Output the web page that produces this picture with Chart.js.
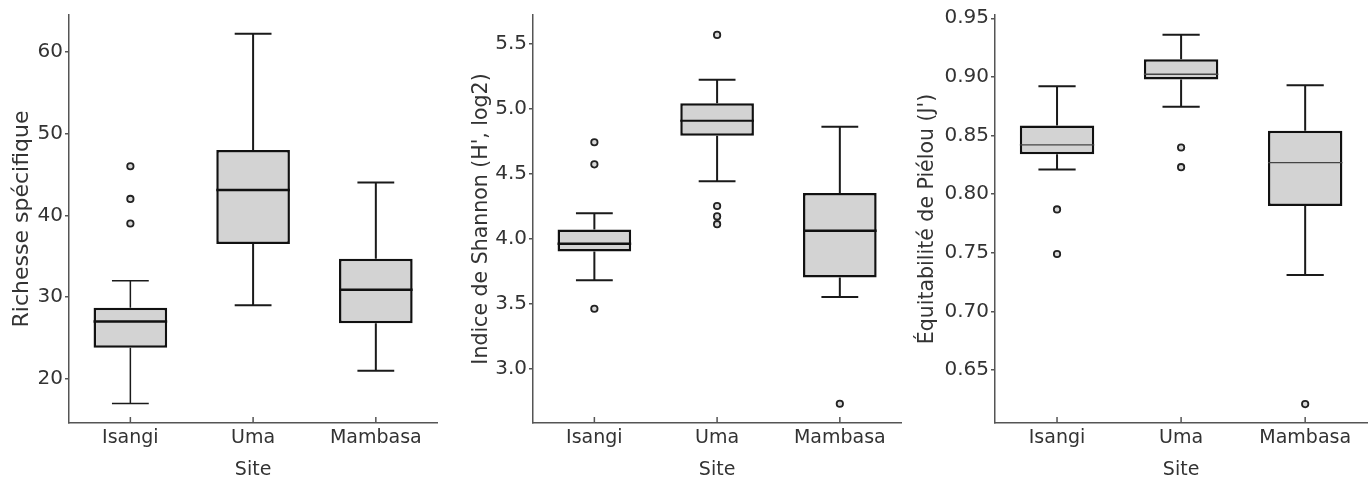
<!DOCTYPE html>
<html>
<head>
<meta charset="utf-8">
<script src="https://cdn.jsdelivr.net/npm/chart.js@4.4.1/dist/chart.umd.min.js"></script>
<style>
  html, body { margin: 0; background: #fff; width: 1368px; height: 480px; overflow: hidden; }
  body { position: relative; }
  canvas { position: absolute; top: 0; }
</style>
</head>
<body>
<canvas id="rich" width="443" height="480" style="left:0px"></canvas>
<canvas id="shannon" width="451" height="480" style="left:456px"></canvas>
<canvas id="pielou" width="461" height="480" style="left:912px"></canvas>
<script>
const sites = ['Isangi', 'Uma', 'Mambasa'];

// Richesse spécifique
const richMin = [17, 29, 21];
const richQ1 = [23.8, 36.5, 26.8];
const richMed = [27.0, 43.1, 30.9];
const richQ3 = [28.7, 48.0, 34.7];
const richMax = [32, 62.2, 44];
const richOut = [[39, 42, 46], [], []];
const richTicks = [20, 30, 40, 50, 60];

// Indice de Shannon
const shanMin = [3.68, 4.44, 3.55];
const shanQ1 = [3.90, 4.79, 3.70];
const shanMed = [3.96, 4.905, 4.06];
const shanQ3 = [4.07, 5.04, 4.35];
const shanMax = [4.195, 5.22, 4.86];
const shanOut = [[3.46, 4.57, 4.74], [4.11, 4.17, 4.25, 5.565], [2.73]];
const shanTicks = [3.0, 3.5, 4.0, 4.5, 5.0, 5.5];

// Equitabilite de Pielou
const pielMin = [0.821, 0.8745, 0.731];
const pielQ1 = [0.834, 0.8977, 0.790];
const pielMed = [0.842, 0.9023, 0.827];
const pielQ3 = [0.8585, 0.915, 0.854];
const pielMax = [0.892, 0.936, 0.893];
const pielOut = [[0.749, 0.787], [0.823, 0.8398], [0.621]];
const pielTicks = [0.65, 0.70, 0.75, 0.80, 0.85, 0.90, 0.95];

const FONT = 'DejaVu Sans';
const TXT = '#333';
const AXIS = '#555';

// whiskers, caps, medians and the small inward x ticks
const boxPlugin = {
  id: 'boxes',
  afterDatasetDraw(chart, args, opts) {
    if (args.index !== 0) return;
    const ctx = chart.ctx;
    const x = chart.scales.x, y = chart.scales.y;
    const meta = chart.getDatasetMeta(0);
    ctx.save();
    ctx.lineCap = 'butt';
    meta.data.forEach((bar, i) => {
      const cx = bar.x;
      const half = bar.width / 2;
      const cap = half / 2;
      const yMin = y.getPixelForValue(opts.min[i]);
      const yQ1 = y.getPixelForValue(opts.q1[i]);
      const yMed = y.getPixelForValue(opts.med[i]);
      const yQ3 = y.getPixelForValue(opts.q3[i]);
      const yMax = y.getPixelForValue(opts.max[i]);
      ctx.strokeStyle = '#1a1a1a';
      ctx.lineWidth = opts.whiskerWidth[i];
      ctx.beginPath();
      ctx.moveTo(cx, yQ1); ctx.lineTo(cx, yMin);
      ctx.moveTo(cx, yQ3); ctx.lineTo(cx, yMax);
      ctx.moveTo(cx - cap, yMin); ctx.lineTo(cx + cap, yMin);
      ctx.moveTo(cx - cap, yMax); ctx.lineTo(cx + cap, yMax);
      ctx.stroke();
      ctx.strokeStyle = opts.medianColor;
      ctx.lineWidth = opts.medianWidth[i];
      ctx.beginPath();
      ctx.moveTo(cx - half, yMed); ctx.lineTo(cx + half, yMed);
      ctx.stroke();
    });
    ctx.strokeStyle = AXIS;
    ctx.lineWidth = 1.5;
    ctx.beginPath();
    sites.forEach((s, i) => {
      const px = x.getPixelForValue(i);
      ctx.moveTo(px, y.bottom); ctx.lineTo(px, y.bottom - 6);
    });
    ctx.stroke();
    ctx.restore();
  }
};

function makeChart(id, cfg) {
  const outliers = [];
  cfg.out.forEach((vals, i) => vals.forEach(v => outliers.push({ x: sites[i], y: v })));

  return new Chart(document.getElementById(id), {
    type: 'bar',
    data: {
      labels: sites,
      datasets: [{
        data: cfg.q1.map((v, i) => [v, cfg.q3[i]]),
        backgroundColor: '#d3d3d3',
        borderColor: '#111',
        borderWidth: 2.5,
        borderSkipped: false,
        categoryPercentage: 1,
        barPercentage: 0.6
      }, {
        type: 'line',
        data: outliers,
        showLine: false,
        pointStyle: 'circle',
        pointRadius: 3.2,
        pointBorderWidth: 1.8,
        pointBackgroundColor: '#d8d8d8',
        pointBorderColor: '#222'
      }]
    },
    options: {
      responsive: false,
      animation: false,
      layout: { padding: { top: 15, left: 0, right: 0, bottom: 0 } },
      plugins: {
        legend: { display: false },
        tooltip: { enabled: false },
        boxes: {
          min: cfg.min, q1: cfg.q1, med: cfg.med, q3: cfg.q3, max: cfg.max,
          whiskerWidth: cfg.whiskerWidth,
          medianWidth: cfg.medianWidth,
          medianColor: cfg.medianColor
        }
      },
      scales: {
        x: {
          offset: true,
          grid: { display: false, drawTicks: false },
          border: { display: true, color: AXIS, width: 1.5 },
          ticks: { color: TXT, font: { family: FONT, size: 19 }, padding: 4 },
          title: { display: true, text: 'Site', color: TXT, font: { family: FONT, size: 19, lineHeight: 1 }, padding: { top: 0, bottom: 0 } },
          afterFit: s => { s.height = 57; }
        },
        y: {
          min: cfg.yMin,
          max: cfg.yMax,
          grid: { drawOnChartArea: false, drawTicks: true, tickLength: 4, color: AXIS, lineWidth: 1.5 },
          border: { display: true, color: AXIS, width: 1.5 },
          ticks: {
            color: TXT,
            font: { family: FONT, size: 20, lineHeight: 1 },
            padding: 2,
            callback: v => v.toFixed(cfg.decimals)
          },
          afterBuildTicks: s => { s.ticks = cfg.ticks.map(v => ({ value: v })); },
          title: { display: true, text: cfg.title, color: TXT, font: { family: FONT, size: cfg.titleSize }, padding: { top: cfg.titlePad, bottom: 0 } },
          afterFit: s => { s.width = cfg.yWidth; }
        }
      }
    },
    plugins: [boxPlugin]
  });
}

makeChart('rich', {
  min: richMin, q1: richQ1, med: richMed, q3: richQ3, max: richMax, out: richOut,
  ticks: richTicks, decimals: 0, yMin: 14.6, yMax: 64.5,
  title: 'Richesse spécifique', titleSize: 22, titlePad: 9, yWidth: 69,
  whiskerWidth: [1.5, 2, 2], medianWidth: [2.5, 2.5, 2.5], medianColor: '#111'
});

makeChart('shannon', {
  min: shanMin, q1: shanQ1, med: shanMed, q3: shanQ3, max: shanMax, out: shanOut,
  ticks: shanTicks, decimals: 1, yMin: 2.582, yMax: 5.718,
  title: "Indice de Shannon (H', log2)", titleSize: 20.5, titlePad: 13, yWidth: 77,
  whiskerWidth: [2, 2, 2], medianWidth: [2.5, 1.8, 2.5], medianColor: '#111'
});

makeChart('pielou', {
  min: pielMin, q1: pielQ1, med: pielMed, q3: pielQ3, max: pielMax, out: pielOut,
  ticks: pielTicks, decimals: 2, yMin: 0.6049, yMax: 0.9528,
  title: "Équitabilité de Piélou (J')", titleSize: 20.5, titlePad: 3, yWidth: 83,
  whiskerWidth: [2, 2, 2], medianWidth: [1.3, 1.5, 1.2], medianColor: '#444'
});
</script>
</body>
</html>
